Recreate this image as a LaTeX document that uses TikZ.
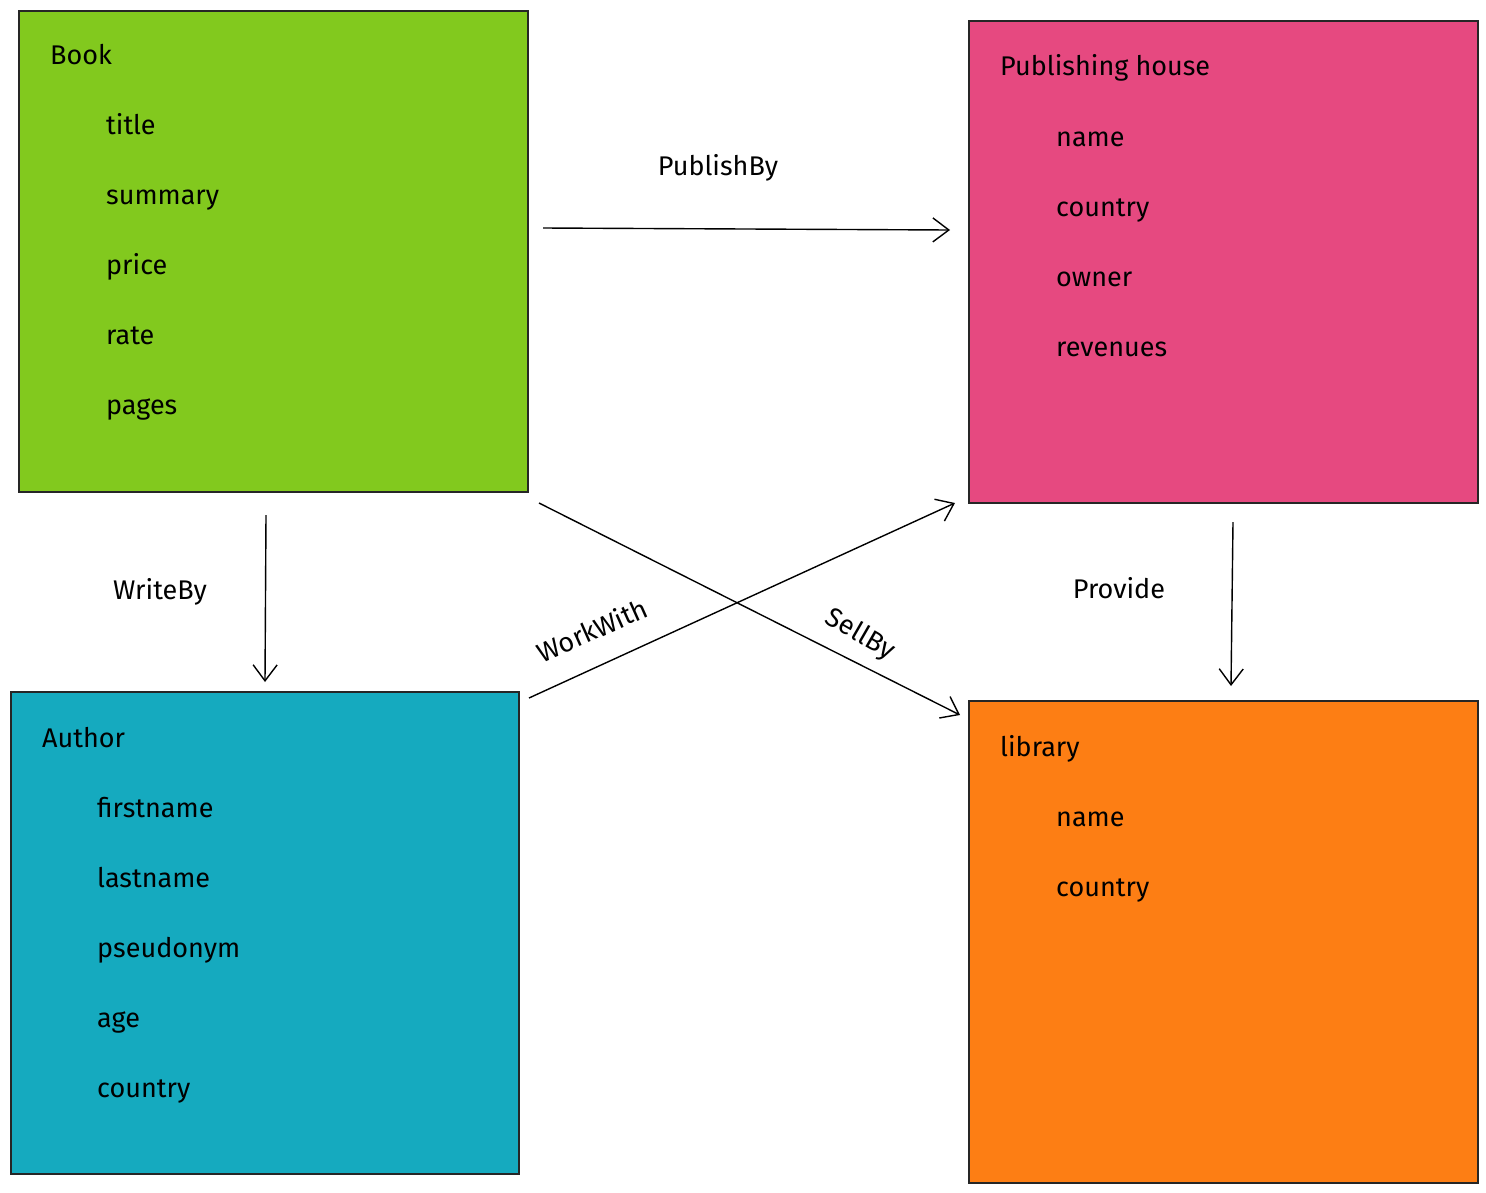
\documentclass[tikz,border=0pt]{standalone}
\usepackage{fontspec}
\setmainfont{Fira Sans}
\usetikzlibrary{arrows.meta}
\definecolor{bookgreen}{HTML}{82C91E}
\definecolor{pubpink}{HTML}{E64980}
\definecolor{authcyan}{HTML}{15AABF}
\definecolor{liborange}{HTML}{FD7E14}
\tikzset{
  entity/.style={draw=black!85, line width=1.5pt, anchor=north west, inner sep=0pt},
  ttl/.style={anchor=base west, inner sep=0pt, font=\fontsize{27}{32}\selectfont},
  attr/.style={anchor=base west, inner sep=0pt, font=\fontsize{27}{32}\selectfont},
  rel/.style={inner sep=0pt, font=\fontsize{27}{32}\selectfont},
  conn/.style={line width=1.4pt, black, -{Straight Barb[length=16pt,width=24pt,line width=1.4pt]}}
}
\begin{document}
\begin{tikzpicture}[x=1pt,y=-1pt]
\useasboundingbox (0,0) rectangle (1486,1192);
% boxes
\node[entity, fill=bookgreen, minimum width=509pt, minimum height=481pt] (book) at (18,10) {};
\node[entity, fill=pubpink, minimum width=509pt, minimum height=482pt] (pub) at (968,20) {};
\node[entity, fill=authcyan, minimum width=508pt, minimum height=482pt] (auth) at (10,691) {};
\node[entity, fill=liborange, minimum width=509pt, minimum height=482pt] (lib) at (968,700) {};
% Book
\node[ttl] (bookT) at (50,64) {Book};
\node[attr] (b1) at (106,134) {title};
\node[attr] (b2) at (106,204) {summary};
\node[attr] (b3) at (106,274) {price};
\node[attr] (b4) at (106,344) {rate};
\node[attr] (b5) at (106,414) {pages};
% Publishing house
\node[ttl] (pubT) at (1000,75) {Publishing house};
\node[attr] (p1) at (1056,146) {name};
\node[attr] (p2) at (1056,216) {country};
\node[attr] (p3) at (1056,286) {owner};
\node[attr] (p4) at (1056,356) {revenues};
% Author
\node[ttl] (authT) at (42,747) {Author};
\node[attr] (a1) at (97,817) {firstname};
\node[attr] (a2) at (97,887) {lastname};
\node[attr] (a3) at (97,957) {pseudonym};
\node[attr] (a4) at (97,1027) {age};
\node[attr] (a5) at (97,1097) {country};
% library
\node[ttl] (libT) at (1000,756) {library};
\node[attr] (l1) at (1056,826) {name};
\node[attr] (l2) at (1056,896) {country};
% connector endpoints
\coordinate (pbA) at (543,228);
\coordinate (pbB) at (950,230);
\coordinate (wbA) at (266,515);
\coordinate (wbB) at (265,682);
\coordinate (wwA) at (529,698);
\coordinate (wwB) at (955,503);
\coordinate (sbA) at (539,503);
\coordinate (sbB) at (960,715);
\coordinate (prA) at (1233,522);
\coordinate (prB) at (1231,686);
\draw[conn] (pbA) -- (pbB);
\draw[conn] (wbA) -- (wbB);
\draw[conn] (wwA) -- (wwB);
\draw[conn] (sbA) -- (sbB);
\draw[conn] (prA) -- (prB);
% labels
\node[rel] (lPB) at (718,168) {PublishBy};
\node[rel] (lWB) at (160,592) {WriteBy};
\node[rel, rotate=24] (lWW) at (592,630) {WorkWith};
\node[rel, rotate=-30] (lSB) at (860,635) {SellBy};
\node[rel] (lPR) at (1119,588) {Provide};
\end{tikzpicture}
\end{document}
